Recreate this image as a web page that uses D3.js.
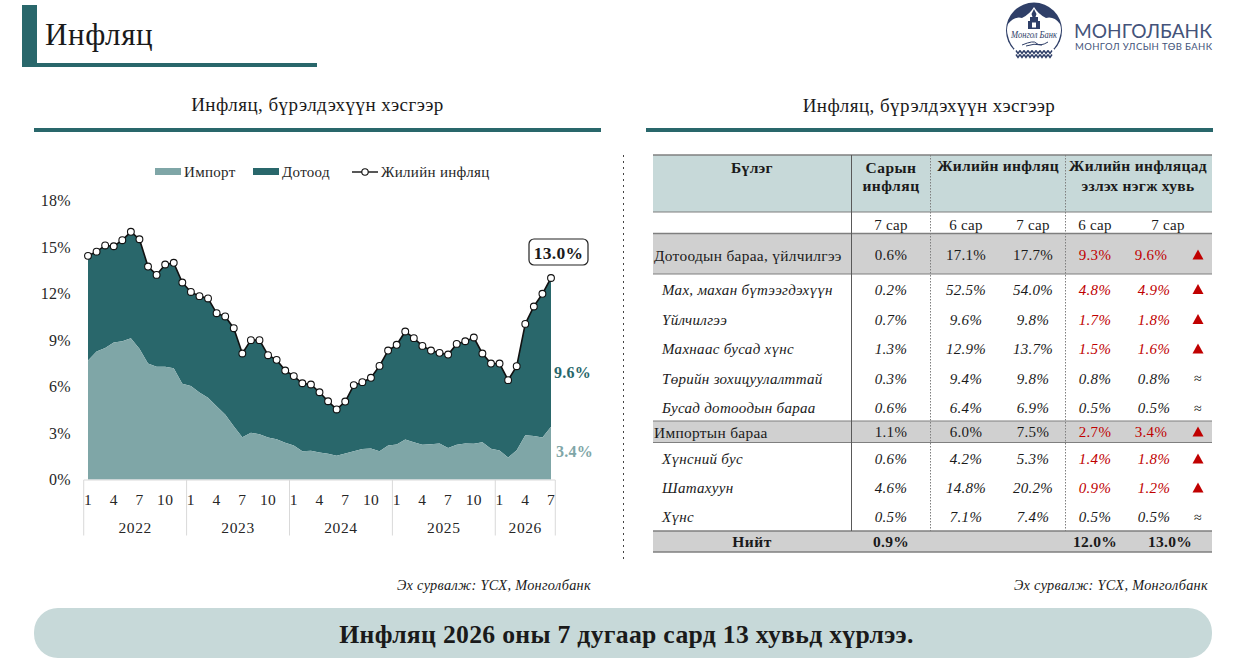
<!DOCTYPE html>
<html><head><meta charset="utf-8">
<script src="https://cdn.jsdelivr.net/npm/d3@7/dist/d3.min.js"></script>
<style>html,body{margin:0;padding:0;background:#fff;}svg{display:block;}text{font-family:"Liberation Serif",serif;fill:#1a1a1a;}</style>
</head><body><svg id="c" width="1250" height="671"></svg>
<script>
const totalInflation=[14.43,14.7,15.1,15.05,15.44,15.98,15.5,13.74,13.2,13.87,13.98,12.71,12.1,11.83,11.68,10.73,10.52,9.76,8.13,8.99,8.99,8.02,7.72,7.03,6.67,6.21,6.13,5.63,5.05,4.52,5.03,6.09,6.28,6.56,7.33,8.32,8.69,9.55,9.12,8.62,8.32,8.17,8.06,8.75,8.92,9.16,8.13,7.48,7.48,6.41,7.31,10.04,11.16,11.98,13.0];
const importPart=[7.68,8.26,8.49,8.84,8.92,9.12,8.43,7.48,7.27,7.27,7.18,6.17,6.04,5.61,5.27,4.73,4.19,3.44,2.73,3.01,2.92,2.71,2.6,2.37,2.19,1.83,1.85,1.74,1.66,1.53,1.68,1.83,1.96,2.0,1.83,2.19,2.26,2.58,2.41,2.24,2.28,2.32,2.04,2.24,2.32,2.3,2.41,1.98,1.87,1.42,1.89,2.86,2.8,2.71,3.4];
const yearLabels=["2022","2023","2024","2025","2026"];
const yearStarts=[0,12,24,36,48,55];
const yTicks=[0,3,6,9,12,15,18];
const panelTitle="Инфляц, бүрэлдэхүүн хэсгээр";
const sourceNote="Эх сурвалж: ҮСХ, Монголбанк";
const tableRows=[
 ["Дотоодын бараа, үйлчилгээ","0.6%","17.1%","17.7%","9.3%","9.6%","up","main"],
 ["Мах, махан бүтээгдэхүүн","0.2%","52.5%","54.0%","4.8%","4.9%","up","sub"],
 ["Үйлчилгээ","0.7%","9.6%","9.8%","1.7%","1.8%","up","sub"],
 ["Махнаас бусад хүнс","1.3%","12.9%","13.7%","1.5%","1.6%","up","sub"],
 ["Төрийн зохицуулалттай","0.3%","9.4%","9.8%","0.8%","0.8%","eq","sub"],
 ["Бусад дотоодын бараа","0.6%","6.4%","6.9%","0.5%","0.5%","eq","sub"],
 ["Импортын бараа","1.1%","6.0%","7.5%","2.7%","3.4%","up","main"],
 ["Хүнсний бус","0.6%","4.2%","5.3%","1.4%","1.8%","up","sub"],
 ["Шатахуун","4.6%","14.8%","20.2%","0.9%","1.2%","up","sub"],
 ["Хүнс","0.5%","7.1%","7.4%","0.5%","0.5%","eq","sub"]
];
const totalRow=["Нийт","0.9%","","","12.0%","13.0%"];
const subHeads=["7 сар","6 сар","7 сар","6 сар","7 сар"];

const TEAL="#29676b",LIGHT="#7fa6a7",PALE="#c7d9d9",GREY="#d0d0d0",RED="#c00000";
const svg=d3.select("#c");
const T=(x,y,s,o={})=>svg.append("text").attr("x",x).attr("y",y).attr("text-anchor",o.a||"middle")
  .attr("dominant-baseline","central").attr("font-size",o.s||15).attr("font-weight",o.b?"bold":null)
  .attr("font-style",o.i?"italic":null).style("fill",o.c||"#1a1a1a").style("letter-spacing",o.ls||"0.3px").text(s);
const R=(x,y,w,h,c)=>svg.append("rect").attr("x",x).attr("y",y).attr("width",w).attr("height",h).attr("fill",c);
const L=(x1,y1,x2,y2,c,w,d)=>svg.append("line").attr("x1",x1).attr("y1",y1).attr("x2",x2).attr("y2",y2).attr("stroke",c).attr("stroke-width",w).attr("stroke-dasharray",d||null);

// header
R(22,5,15,62,TEAL);R(22,63,295,4,TEAL);
T(45,34,"Инфляц",{a:"start",s:31,ls:"0.6px"});
T(317.5,104,panelTitle,{s:19,ls:"0.45px"});T(929,105,panelTitle,{s:19,ls:"0.45px"});
R(34,128,567,4,TEAL);R(646,128,567,4,TEAL);
L(623.5,155,623.5,560,"#444",1,"2 4");

// logo
const NAVY="#2f3f68";
const lg=svg.append("g");
lg.append("circle").attr("cx",1034).attr("cy",30.5).attr("r",28).attr("fill",NAVY);
lg.append("path").attr("d","M1008 24 Q1014 16 1022 18 Q1030 14 1034 7 Q1038 14 1046 18 Q1054 16 1060 24 Q1062 30 1060 36 A26.5 26.5 0 0 1 1008 36 Q1006 30 1008 24Z").attr("fill","#fff");
lg.append("path").attr("d","M1034 9 L1036.5 14 L1035.5 17 L1038 17 L1038 29 L1030 29 L1030 17 L1032.5 17 L1031.5 14Z").attr("fill",NAVY);
lg.append("rect").attr("x",1028).attr("y",21).attr("width",12).attr("height",8).attr("fill",NAVY);
lg.append("rect").attr("x",1032).attr("y",22.5).attr("width",4).attr("height",5).attr("fill","#fff");
svg.append("text").attr("x",1034).attr("y",38).attr("text-anchor","middle").attr("font-size",10).attr("font-style","italic").attr("textLength",46).attr("lengthAdjust","spacingAndGlyphs").style("fill",NAVY).text("Монгол Банк");
lg.append("path").attr("d","M1022 45 Q1034 40 1036 43 Q1040 47 1048 42 M1026 46 Q1034 43 1042 45").attr("fill","none").attr("stroke",NAVY).attr("stroke-width",1);
lg.append("rect").attr("x",1014).attr("y",49).attr("width",40).attr("height",10).attr("fill","#fff");
const zig=d3.range(1016,1052,4);
lg.selectAll("path.z").data(zig).join("path").attr("class","z").attr("d",d=>`M${d} 50.5 l2 3 l2 -3 M${d} 54.5 l2 3 l2 -3`).attr("fill","none").attr("stroke",NAVY).attr("stroke-width",1.4);
svg.append("text").attr("x",1074).attr("y",38).attr("font-size",20).attr("textLength",138).attr("lengthAdjust","spacingAndGlyphs").style("font-family","'Lato','Liberation Sans'").style("fill","#44537a").text("МОНГОЛБАНК");
svg.append("text").attr("x",1075).attr("y",50).attr("font-size",9.5).attr("textLength",137).style("font-family","'Lato','Liberation Sans'").style("fill","#44537a").text("МОНГОЛ УЛСЫН ТӨВ БАНК");

// chart
const x=d3.scaleLinear().domain([0,54]).range([88,551]);
const y=d3.scaleLinear().domain([0,18]).range([479.5,200.5]);
const idx=d3.range(totalInflation.length);
svg.append("path").datum(idx).attr("fill",TEAL).attr("d",d3.area().x(i=>x(i)).y0(i=>y(importPart[i])).y1(i=>y(totalInflation[i])));
svg.append("path").datum(idx).attr("fill",LIGHT).attr("d",d3.area().x(i=>x(i)).y0(y(0)).y1(i=>y(importPart[i])));
svg.append("path").datum(idx).attr("fill","none").attr("stroke","#111").attr("stroke-width",1.6).attr("d",d3.line().x(i=>x(i)).y(i=>y(totalInflation[i])));
svg.selectAll("circle.pt").data(idx).join("circle").attr("class","pt").attr("cx",i=>x(i)).attr("cy",i=>y(totalInflation[i])).attr("r",3.4).attr("fill","#fff").attr("stroke","#111").attr("stroke-width",1.1);
const yAxis=d3.axisLeft(y).tickValues(yTicks).tickFormat(d=>d+"%").tickSize(0).tickPadding(0);
const ya=svg.append("g").attr("transform","translate(71,0)").call(yAxis);ya.select(".domain").remove();
ya.selectAll("text").attr("font-size",16).style("letter-spacing","0.3px").style("fill","#262626");
L(x(-0.5),480,x(54.5),480,"#d9d9d9",1);
yearStarts.forEach(s=>L(x(s-0.5),480,x(s-0.5),535.5,"#d9d9d9",1));
idx.forEach(i=>{const m=i%12;if(m%3===0)T(x(i),499.5,String(m+1),{s:15.5,c:"#262626"});});
yearLabels.forEach((l,k)=>T((x(yearStarts[k]-0.5)+x(yearStarts[k+1]-0.5))/2,527,l,{s:15.5,c:"#262626",ls:"0.6px"}));
// legend
R(155,168,26,7,LIGHT);T(184,171.5,"Импорт",{a:"start",s:15,c:"#262626"});
R(253,168,26,7,TEAL);T(282,171.5,"Дотоод",{a:"start",s:15,c:"#262626"});
L(352,172,378,172,"#111",1.4);svg.append("circle").attr("cx",365).attr("cy",172).attr("r",3.2).attr("fill","#fff").attr("stroke","#111").attr("stroke-width",1.1);
T(381,171.5,"Жилийн инфляц",{a:"start",s:15,c:"#262626"});
svg.append("rect").attr("x",529).attr("y",239).attr("width",59).attr("height",26).attr("rx",5).attr("fill","#fff").attr("stroke","#222").attr("stroke-width",1.2);
T(558.5,252.5,"13.0%",{s:17.5,b:1,ls:"0.3px"});
T(572.5,372,"9.6%",{s:16,b:1,c:TEAL});T(574.5,451,"3.4%",{s:16,b:1,c:LIGHT});
T(591,585,sourceNote,{a:"end",s:14.3,i:1});T(1208,585,sourceNote,{a:"end",s:14.3,i:1});

// table
const rowY=[255,289.5,319.5,349,378.5,408,432,459,488,517];
R(653,155,559,57,PALE);
R(653,234,559,40,GREY);R(653,421,559,22,GREY);R(653,531,559,21,GREY);
[[155,1.6],[212,1.2],[233.5,1.6],[274,1.2],[421,1.2],[442.5,1.2],[531,1.6],[552,1.6]].forEach(([yy,w])=>L(653,yy,1212,yy,"#7f7f7f",w));
L(851.5,155,851.5,531,"#595959",1);
L(930.5,155,930.5,531,"#7f7f7f",1,"1.5 1.5");L(1065.5,155,1065.5,531,"#7f7f7f",1,"1.5 1.5");
T(752,167,"Бүлэг",{s:15.5,b:1});T(891,167,"Сарын",{s:15.5,b:1,ls:"0.5px"});T(891,185,"инфляц",{s:15.5,b:1,ls:"0.5px"});
T(998,165.5,"Жилийн инфляц",{s:15.5,b:1,ls:"0.3px"});T(1138,165.5,"Жилийн инфляцад",{s:15.5,b:1,ls:"0.3px"});T(1138,185,"эзлэх нэгж хувь",{s:15.5,b:1,ls:"0.3px"});
[891,966,1033,1095,1168].forEach((cx,k)=>T(cx,224.5,subHeads[k],{s:15}));
tableRows.forEach((r,k)=>{const yy=rowY[k],sub=r[7]==="sub",i=sub;
  T(sub?662:654,yy,r[0],{a:"start",s:sub?15:15.4,i});
  const s=15;
  T(891,yy,r[1],{s,i});T(966,yy,r[2],{s,i});T(1033,yy,r[3],{s,i});
  const up=r[6]==="up",c=up?RED:"#1a1a1a";
  T(1095,yy,r[4],{s,i,c});T(sub?1154:1151,yy,r[5],{s,i,c});
  if(up)svg.append("path").attr("transform",`translate(1198,${yy})`).attr("d","M0 -5.5 L5.5 4.5 L-5.5 4.5Z").attr("fill",RED);
  else T(1198,yy,"≈",{s:14});
});
T(752,541.5,totalRow[0],{s:15.5,b:1,ls:"0.5px"});T(891,541.5,totalRow[1],{s:15.5,b:1});T(1095,541.5,totalRow[4],{s:15.5,b:1});T(1170,541.5,totalRow[5],{s:15.5,b:1});

// footer
svg.append("rect").attr("x",34).attr("y",608).attr("width",1178).attr("height",50).attr("rx",24).attr("fill",PALE);
T(626.5,634,"Инфляц 2026 оны 7 дугаар сард 13 хувьд хүрлээ.",{s:25.7,b:1});
</script></body></html>
